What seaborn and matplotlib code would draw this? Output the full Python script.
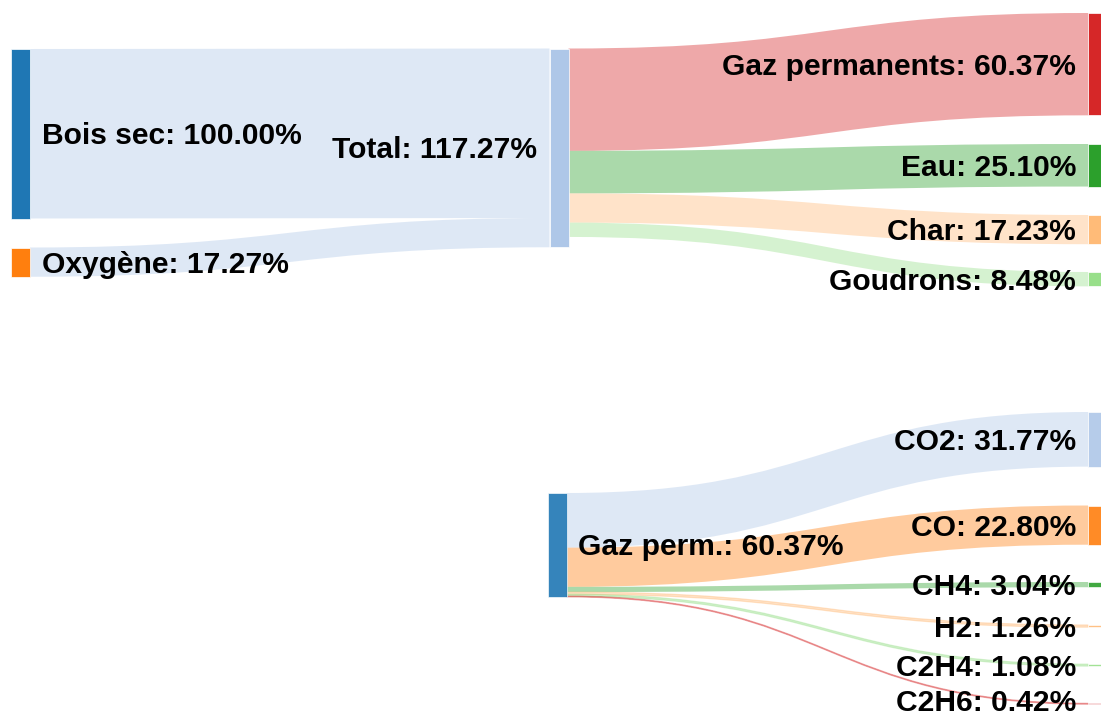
import matplotlib
matplotlib.use("Agg")
import matplotlib.pyplot as plt
from matplotlib.path import Path
from matplotlib.patches import PathPatch, Rectangle
import seaborn as sns

# Mass balance of the gasification (% of dry wood)
input_labels = ["Bois sec", "Oxygène"]
input_values = [100.00, 17.27]
total_label = "Total"
total_value = 117.27
product_labels = ["Gaz permanents", "Eau", "Char", "Goudrons"]
product_values = [60.37, 25.10, 17.23, 8.48]

# Composition of the permanent gases
gas_label = "Gaz perm."
gas_value = 60.37
species_labels = ["CO2", "CO", "CH4", "H2", "C2H4", "C2H6"]
species_values = [31.77, 22.80, 3.04, 1.26, 1.08, 0.42]

# ---- styling / layout -------------------------------------------------------
sns.set_theme(style="white")
plt.rcParams["font.family"] = ["Liberation Sans", "DejaVu Sans"]
pal = sns.color_palette("tab20")

input_colors = [pal[0], pal[2]]
total_color = pal[1]
product_colors = [pal[6], pal[4], pal[3], pal[5]]
gas_color = pal[0]
species_colors = [pal[1], pal[2], pal[4], pal[3], pal[5], pal[6]]

W, H = 1101, 718
NODE_W = 19
PAD = 12
FS = 21.6
TEXT_DY = 2.5
LINK_ALPHA = 0.4

top_scale = 1.695          # px per % in the upper diagram
bot_scale = 1.72           # px per % in the lower diagram
col_x = [11, 549.5, 1088]
input_tops = [49, 247.5]
total_top = 48.5
product_tops = [13, 144, 215, 272]
gas_x = 547.5
gas_top = 493
species_tops = [412, 505.5, 582, 625, 664.2, 703.4]

fig = plt.figure(figsize=(W / 100, H / 100), dpi=100)
ax = fig.add_axes([0, 0, 1, 1])
ax.set_xlim(0, W)
ax.set_ylim(H, 0)
ax.axis("off")
renderer = fig.canvas.get_renderer()


def draw_link(x0, y0, x1, y1, h, color):
    xm = (x0 + x1) / 2
    verts = [(x0, y0), (xm, y0), (xm, y1), (x1, y1),
             (x1, y1 + h), (xm, y1 + h), (xm, y0 + h), (x0, y0 + h), (x0, y0)]
    codes = [Path.MOVETO, Path.CURVE4, Path.CURVE4, Path.CURVE4,
             Path.LINETO, Path.CURVE4, Path.CURVE4, Path.CURVE4, Path.CLOSEPOLY]
    thin = h < 3
    ax.add_patch(PathPatch(Path(verts, codes), facecolor=color,
                           edgecolor=color if thin else "none",
                           lw=0.9 if thin else 0, alpha=LINK_ALPHA, zorder=1))


def draw_node(x, top, h, color, alpha=1.0):
    ax.add_patch(Rectangle((x, top), NODE_W, h, facecolor=color, alpha=alpha,
                           edgecolor="white", lw=0.5, zorder=2))


def label(x, y, text, ha):
    t = ax.text(x, y + TEXT_DY, text, ha=ha, va="center", fontsize=FS,
                fontweight="bold", color="black", zorder=3)
    # keep labels near the lower border inside the canvas
    bb = t.get_window_extent(renderer)
    if bb.y0 < 1:
        t.set_y(y + TEXT_DY - (1 - bb.y0))


# ---- upper diagram: inputs -> total -> products -----------------------------
y_in = total_top
for name, val, top, col in zip(input_labels, input_values, input_tops, input_colors):
    h = val * top_scale
    draw_link(col_x[0] + NODE_W, top, col_x[1], y_in, h, total_color)
    y_in += h
    draw_node(col_x[0], top, h, col)
    label(col_x[0] + NODE_W + PAD, top + h / 2, f"{name}: {val:.2f}%", "left")

y_out = total_top
for name, val, top, col in zip(product_labels, product_values, product_tops, product_colors):
    h = val * top_scale
    draw_link(col_x[1] + NODE_W, y_out, col_x[2], top, h, col)
    y_out += h
    draw_node(col_x[2], top, h, col)
    label(col_x[2] - PAD, top + h / 2, f"{name}: {val:.2f}%", "right")

total_h = total_value * top_scale
draw_node(col_x[1], total_top, total_h, total_color)
label(col_x[1] - PAD, total_top + total_h / 2, f"{total_label}: {total_value:.2f}%", "right")

# ---- lower diagram: permanent gas -> species --------------------------------
y_out = gas_top
for name, val, top, col in zip(species_labels, species_values, species_tops, species_colors):
    h = val * bot_scale
    draw_link(gas_x + NODE_W, y_out, col_x[2], top, h, col)
    y_out += h
    draw_node(col_x[2], top, h, col, alpha=0.9)
    label(col_x[2] - PAD, top + h / 2, f"{name}: {val:.2f}%", "right")

gas_h = gas_value * bot_scale
draw_node(gas_x, gas_top, gas_h, gas_color, alpha=0.9)
label(gas_x + NODE_W + PAD, gas_top + gas_h / 2, f"{gas_label}: {gas_value:.2f}%", "left")

fig.savefig("out.png", dpi=100, facecolor="white")
